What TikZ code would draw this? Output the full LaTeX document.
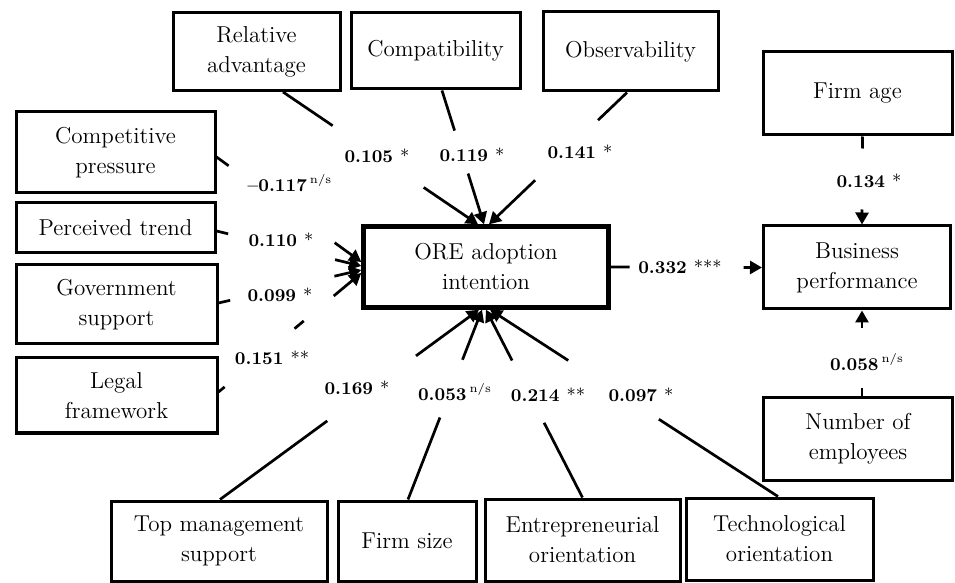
\documentclass[tikz,border=0pt]{standalone}
\usepackage{tikz}
\usetikzlibrary{arrows.meta,calc,positioning}

\tikzset{
  box/.style={draw, line width=1.5pt, align=center, inner sep=2pt, font=\fontsize{11.5}{15}\selectfont},
  mainbox/.style={box, line width=2.2pt},
  coef/.style={font=\fontsize{9}{11}\selectfont\bfseries, inner sep=1pt},
  conn/.style={line width=1.35pt, -{Triangle[length=6pt,width=6.5pt]}},
}
\newcommand{\nsmark}{\,\textsuperscript{\mdseries n/s}}
\newcommand{\sigmark}[1]{\ {\mdseries #1}}

\begin{document}
\begin{tikzpicture}[x=0.5pt, y=-0.5pt]
  \useasboundingbox (0,0) rectangle (955,583);

  % boxes
  \node[box, minimum width=83.5pt, minimum height=39pt] (ra) at (256.5,51.5) {Relative\\advantage};
  \node[box, minimum width=84.5pt, minimum height=38pt] (comp) at (435.5,51) {Compatibility};
  \node[box, minimum width=87.5pt, minimum height=39.5pt] (obs) at (630.5,51.5) {Observability};
  \node[box, minimum width=94.5pt, minimum height=41.5pt] (fage) at (857.5,93.5) {Firm age};
  \node[box, minimum width=99.5pt, minimum height=40.5pt] (cp) at (115.5,152.5) {Competitive\\pressure};
  \node[box, minimum width=99.5pt, minimum height=25pt] (pt) at (115.5,228) {Perceived trend};
  \node[box, minimum width=100.5pt, minimum height=39.5pt] (gs) at (116.5,304.5) {Government\\support};
  \node[box, minimum width=100.5pt, minimum height=37.5pt] (lf) at (116.5,395.5) {Legal\\framework};
  \node[mainbox, minimum width=122.5pt, minimum height=40.5pt] (ore) at (486,267) {ORE adoption\\intention};
  \node[box, minimum width=93.5pt, minimum height=41.5pt] (bp) at (857,267.5) {Business\\performance};
  \node[box, minimum width=94.5pt, minimum height=41pt] (noe) at (858,439) {Number of\\employees};
  \node[box, minimum width=108pt, minimum height=40pt] (tms) at (219,541) {Top management\\support};
  \node[box, minimum width=69pt, minimum height=40pt] (fs) at (407,541) {Firm size};
  \node[box, minimum width=97.5pt, minimum height=41pt] (eo) at (582.5,540) {Entrepreneurial\\orientation};
  \node[box, minimum width=93.5pt, minimum height=41pt] (to) at (779.5,539) {Technological\\orientation};

  % path coefficients
  \node[coef] (c1) at (377,156) {0.105\sigmark{*}};
  \node[coef] (c2) at (472,155) {0.119\sigmark{*}};
  \node[coef] (c3) at (580,152) {0.141\sigmark{*}};
  \node[coef] (c4) at (290,183) {--0.117\nsmark};
  \node[coef] (c5) at (281,240) {0.110\sigmark{*}};
  \node[coef] (c6) at (280,295) {0.099\sigmark{*}};
  \node[coef] (c7) at (272,358) {0.151\sigmark{**}};
  \node[coef] (c8) at (357,388) {0.169\sigmark{*}};
  \node[coef] (c9) at (455,392) {0.053\nsmark};
  \node[coef] (c10) at (548,395) {0.214\sigmark{**}};
  \node[coef] (c11) at (641,395) {0.097\sigmark{*}};
  \node[coef] (c12) at (680,267) {0.332\sigmark{***}};
  \node[coef] (c13) at (869,181) {0.134\sigmark{*}};
  \node[coef] (c14) at (867,362) {0.058\nsmark};

  % connectors
  \draw[conn, dash pattern=on 30pt off 55pt on 500pt] ($(ra.south)+(26.5,0)$) -- ($(ore.north)+(-8,0)$);
  \draw[conn, dash pattern=on 21pt off 22.5pt on 500pt] ($(comp.south)+(6.5,0)$) -- ($(ore.north)+(-2,0)$);
  \draw[conn, dash pattern=on 20pt off 43.5pt on 500pt] ($(obs.south)+(-3.5,0)$) -- ($(ore.north)+(3,0)$);
  \draw[conn, dash pattern=on 7.5pt off 65.5pt on 500pt] ($(cp.east)+(0,4.5)$) -- ($(ore.west)+(0,-5)$);
  \draw[conn, dash pattern=on 6pt off 55pt on 500pt] ($(pt.east)+(0,3)$) -- ($(ore.west)+(0,-1)$);
  \draw[conn, dash pattern=on 6pt off 53.5pt on 500pt] ($(gs.east)+(0,-1.5)$) -- ($(ore.west)+(0,3)$);
  \draw[conn, dash pattern=on 4pt off 45.5pt on 6pt off 19.5pt on 500pt] ($(lf.east)+(0,-3.5)$) -- ($(ore.west)+(0,6)$);
  \draw[conn, dash pattern=on 66.5pt off 55pt on 500pt] ($(tms.north)+(1,0)$) -- ($(ore.south)+(-7,0)$);
  \draw[conn, dash pattern=on 44pt off 31pt on 500pt] ($(fs.north)+(1,0)$) -- ($(ore.south)+(-4,0)$);
  \draw[conn, dash pattern=on 42pt off 35pt on 500pt] (eo.north) -- (ore.south);
  \draw[conn, dash pattern=on 71pt off 54pt on 500pt] ($(to.north)+(-1.5,0)$) -- ($(ore.south)+(4,0)$);
  \draw[conn, dash pattern=on 9.5pt off 57pt on 500pt] (ore.east) -- (bp.west);
  \draw[conn, dash pattern=on 6pt off 30.5pt on 500pt] ($(fage.south)+(5,0)$) -- ($(bp.north)+(5,0)$);
  \draw[conn, dash pattern=on 4pt off 30pt on 500pt] ($(noe.north)+(4,0)$) -- ($(bp.south)+(5,0)$);
\end{tikzpicture}
\end{document}
